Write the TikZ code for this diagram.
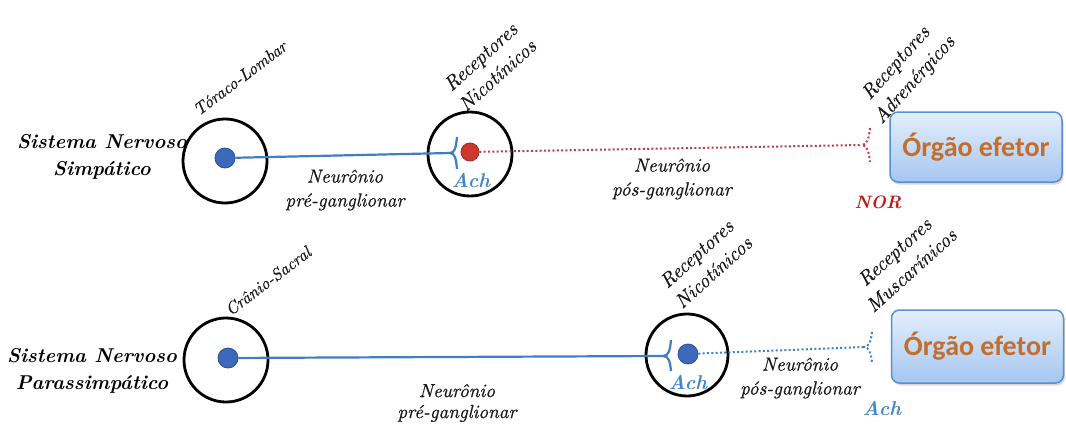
\documentclass[tikz,border=0pt]{standalone}
\usepackage{fontspec}
\newfontfamily\boxfont{Carlito}
\newfontfamily\lblfont{lmroman10-italic.otf}[FakeBold=0.6]
\usetikzlibrary{shadows}
\definecolor{axonBlue}{RGB}{65,125,195}
\definecolor{dotBlue}{RGB}{60,105,185}
\definecolor{dotBlueEdge}{RGB}{40,80,150}
\definecolor{dotRed}{RGB}{205,55,45}
\definecolor{dotRedEdge}{RGB}{160,40,35}
\definecolor{postRed}{RGB}{185,60,80}
\definecolor{postBlue}{RGB}{60,130,200}
\definecolor{achBlue}{RGB}{70,135,200}
\definecolor{norRed}{RGB}{190,25,25}
\definecolor{boxTop}{RGB}{228,239,252}
\definecolor{boxBottom}{RGB}{165,198,240}
\definecolor{boxBorder}{RGB}{85,145,210}
\definecolor{organText}{RGB}{195,110,45}
\definecolor{lblText}{RGB}{25,25,25}
\begin{document}
\begin{tikzpicture}[x=1pt,y=-1pt,
  ring/.style={circle, draw=black, line width=2.8pt, minimum size=84pt, inner sep=0pt},
  somablue/.style={circle, fill=dotBlue, draw=dotBlueEdge, line width=0.8pt, minimum size=20pt, inner sep=0pt},
  somared/.style={circle, fill=dotRed, draw=dotRedEdge, line width=0.8pt, minimum size=18pt, inner sep=0pt},
  axon/.style={draw=axonBlue, line width=2.2pt},
  postred/.style={draw=postRed, line width=2pt, dash pattern=on 2pt off 2.3pt},
  postblue/.style={draw=postBlue, line width=2pt, dash pattern=on 2pt off 2.3pt},
  sysname/.style={font=\bfseries\itshape\fontsize{20}{27}\selectfont, align=center, inner sep=0pt},
  neurlbl/.style={font=\lblfont\fontsize{19}{24}\selectfont, text=lblText, align=center, inner sep=0pt},
  regionlbl/.style={font=\lblfont\fontsize{17}{20}\selectfont, text=lblText, inner sep=0pt, rotate=37},
  receplbl/.style={font=\lblfont\fontsize{20}{25}\selectfont, text=lblText, align=center, inner sep=0pt, rotate=42},
  achlbl/.style={font=\bfseries\itshape\fontsize{20}{22}\selectfont, text=achBlue, inner sep=0pt},
  norlbl/.style={font=\bfseries\itshape\fontsize{18}{20}\selectfont, text=norRed, inner sep=0pt},
  organ/.style={rounded corners=8pt, draw=boxBorder, line width=1.5pt,
    top color=boxTop, bottom color=boxBottom,
    drop shadow={opacity=0.3, shadow xshift=1.5pt, shadow yshift=-2.5pt},
    minimum width=172pt, inner sep=0pt, text=organText,
    font=\boxfont\bfseries\fontsize{28}{30}\selectfont}
]
\useasboundingbox (0,0) rectangle (1066,428);

% ---------- Sympathetic ----------
\node[sysname] (sns1) at (102,157) {Sistema Nervoso\\Simpático};
\node[ring] (cns1) at (225,161) {};
\node[somablue] (d1) at (225,158) {};
\node[regionlbl] (tl) at (240,78) {Tóraco-Lombar};
\node[ring] (g1) at (470,154) {};
\node[somared] (r1) at (470,152) {};
\node[receplbl] (rn1) at (489,66) {Receptores\\Nicotínicos};
\node[achlbl] (ach1) at (471,180) {Ach};
\node[neurlbl] (pre1) at (345,190) {Neurônio\\pré-ganglionar};
\node[neurlbl] (pos1) at (672,179) {Neurônio\\pós-ganglionar};
\node[receplbl, rotate=6] (ra1) at (906,72) {Receptores\\Adrenérgicos};
\node[organ, minimum height=70pt] (box1) at (976,147) {Órgão efetor};
\node[norlbl] (nor) at (878,202) {NOR};

\coordinate (j1) at (450,153);
\coordinate (j1a) at (457,137);
\coordinate (j1b) at (457,169);
\draw[axon] (d1) -- (j1);
\draw[axon] (j1a) .. controls (456,147) and (455,153) .. (j1)
               .. controls (455,153) and (456,159) .. (j1b);

\coordinate (k1) at (862,145);
\coordinate (k1a) at (870,128);
\coordinate (k1b) at (870,162);
\draw[postred] (r1) -- (k1);
\draw[postred] (k1a) .. controls (869,138) and (867,145) .. (k1)
                 .. controls (867,145) and (869,152) .. (k1b);

% ---------- Parasympathetic ----------
\node[sysname] (sns2) at (92,371) {Sistema Nervoso\\Parassimpático};
\node[ring] (cns2) at (226,360) {};
\node[somablue] (d2) at (228,358) {};
\node[regionlbl] (cs) at (268,281) {Crânio-Sacral};
\node[ring, minimum size=82pt] (g2) at (687,355) {};
\node[somablue] (d3) at (688,354) {};
\node[receplbl] (rn2) at (705,263) {Receptores\\Nicotínicos};
\node[achlbl] (ach2) at (688,382) {Ach};
\node[neurlbl, font=\lblfont\fontsize{19}{21}\selectfont] (pre2) at (457,403) {Neurônio\\pré-ganglionar};
\node[neurlbl] (pos2) at (800,378) {Neurônio\\pós-ganglionar};
\node[receplbl] (rm2) at (903,261) {Receptores\\Muscarínicos};
\node[organ, minimum height=73pt] (box2) at (977.5,346.5) {Órgão efetor};
\node[achlbl] (ach3) at (882,408) {Ach};

\coordinate (j2) at (663,356);
\coordinate (j2a) at (671,340);
\coordinate (j2b) at (671,371);
\draw[axon] (d2) -- (j2);
\draw[axon] (j2a) .. controls (670,350) and (669,356) .. (j2)
               .. controls (669,356) and (670,362) .. (j2b);

\coordinate (k2) at (864,347);
\coordinate (k2a) at (872,332);
\coordinate (k2b) at (872,362);
\draw[postblue] (d3) -- (k2);
\draw[postblue] (k2a) .. controls (871,341) and (869,347) .. (k2)
                  .. controls (869,347) and (871,354) .. (k2b);
\end{tikzpicture}
\end{document}
